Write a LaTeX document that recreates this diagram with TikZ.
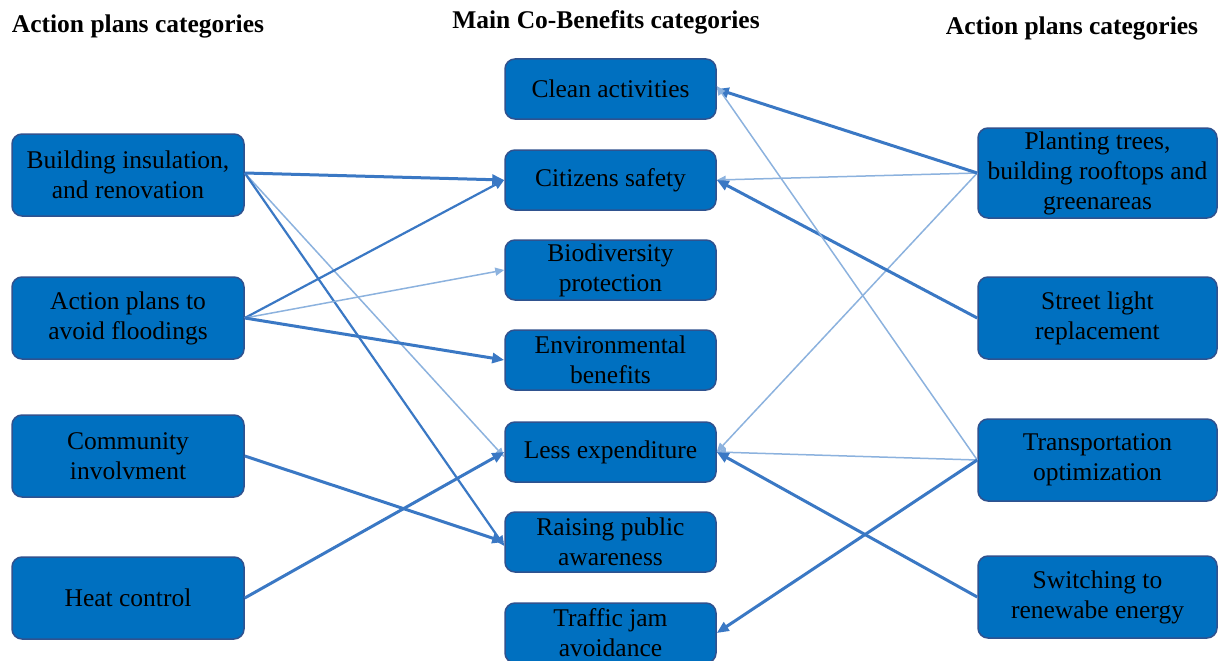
\documentclass[tikz,border=0pt]{standalone}
\usepackage{fontspec}
\setmainfont{Liberation Serif}
\usetikzlibrary{arrows.meta}
\definecolor{boxfill}{RGB}{0,112,192}
\definecolor{boxline}{RGB}{47,82,143}
\definecolor{thickc}{RGB}{58,120,196}
\definecolor{thinc}{RGB}{140,178,222}
\begin{document}
\begin{tikzpicture}[x=1pt,y=-1pt,
  catbox/.style={draw=boxline,fill=boxfill,line width=1.5pt,rounded corners=10pt,align=center,
    font=\fontsize{25.5}{30}\selectfont,inner sep=0pt,text=black},
  lbox/.style={catbox,minimum width=232pt,minimum height=82pt},
  mbox/.style={catbox,minimum width=211pt,minimum height=60pt},
  rbox/.style={catbox,minimum width=239pt,minimum height=82pt},
  header/.style={font=\bfseries\fontsize{25.5}{28}\selectfont,inner sep=0pt,anchor=base},
  thickarr/.style={draw=thickc,line width=3pt,-{Triangle[length=12pt,width=10pt]}},
  medarr/.style={draw=thickc,line width=2.2pt,-{Triangle[length=10pt,width=9pt]}},
  thinarr/.style={draw=thinc,line width=1.5pt,-{Triangle[length=9pt,width=8pt]}}
]
\useasboundingbox (0,0) rectangle (1219,661);
% headers
\node[header] (h1) at (138,33) {Action plans categories};
\node[header] (h2) at (606,29) {Main Co-Benefits categories};
\node[header] (h3) at (1072,35) {Action plans categories};
% left boxes
\node[lbox] (bi) at (128,175) {Building insulation,\\and renovation};
\node[lbox] (fl) at (128,318) {Action plans to\\avoid floodings};
\node[lbox] (ci) at (128,456) {Community\\involvment};
\node[lbox] (hc) at (128,598) {Heat control};
% middle boxes
\node[mbox] (ca) at (610.5,89) {Clean activities};
\node[mbox] (cs) at (610.5,180) {Citizens safety};
\node[mbox] (bp) at (610.5,270) {Biodiversity\\protection};
\node[mbox] (eb) at (610.5,360) {Environmental\\benefits};
\node[mbox] (le) at (610.5,452) {Less expenditure};
\node[mbox] (rp) at (610.5,542) {Raising public\\awareness};
\node[mbox] (tj) at (610.5,633) {Traffic jam\\avoidance};
% right boxes
\node[rbox,minimum height=90pt] (pt) at (1097.5,173) {Planting trees,\\building rooftops and\\greenareas};
\node[rbox] (sl) at (1097.5,318) {Street light\\replacement};
\node[rbox] (to) at (1097.5,460) {Transportation\\optimization};
\node[rbox] (sr) at (1097.5,597) {Switching to\\renewabe energy};
% left connectors
\draw[thinarr] ([yshift=2pt]bi.east) -- ([yshift=-5pt]le.west);
\draw[medarr] ([yshift=2pt]bi.east) -- ([yshift=-4pt]rp.west);
\draw[thickarr] ([yshift=2pt]bi.east) -- (cs.west);
\draw[medarr] (fl.east) -- (cs.west);
\draw[thinarr] (fl.east) -- (bp.west);
\draw[thickarr] (fl.east) -- (eb.west);
\draw[thickarr] (ci.east) -- (rp.west);
\draw[thickarr] (hc.east) -- (le.west);
% right connectors
\draw[thinarr] (pt.west) -- (cs.east);
\draw[thinarr] (pt.west) -- (le.east);
\draw[thickarr] (pt.west) -- (ca.east);
\draw[thickarr] (sl.west) -- (cs.east);
\draw[thinarr] (to.west) -- ([yshift=3pt]ca.east);
\draw[thinarr] (to.west) -- (le.east);
\draw[thickarr] (to.west) -- (tj.east);
\draw[thickarr] (sr.west) -- (le.east);
\end{tikzpicture}
\end{document}
